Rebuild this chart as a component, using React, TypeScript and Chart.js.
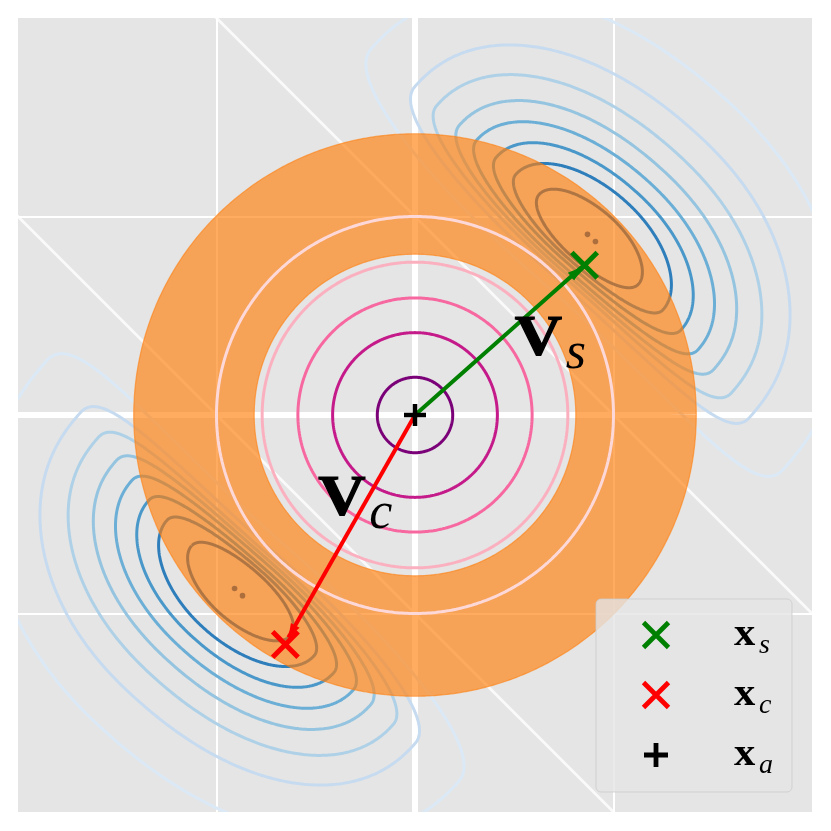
import React, { useEffect, useRef } from 'react';
import { Chart, registerables } from 'chart.js';

Chart.register(...registerables);

// ---------- data ----------
const AXIS_MIN = -2;
const AXIS_MAX = 2;
const GRID_STEP = 1;
const DIAGONAL_OFFSETS = [1, -1]; // white lines y = -x + c

const RING_RADII = [0.19, 0.415, 0.59, 0.77, 1.0];
const RING_COLORS = ['#7a0177', '#c51b8a', '#f768a1', '#fbb0c0', '#fdd8d8'];

const ANNULUS_INNER = 0.81;
const ANNULUS_OUTER = 1.417;

// two point-symmetric blobs of blue contours (outermost level first)
const BLOB_CENTERS = [{ x: 0.879, y: 0.889 }, { x: -0.879, y: -0.889 }];
const BLOB_AXIS_DEG = -41;
const CONTOUR_A_MINUS = [1.457, 1.166, 1.02, 0.869, 0.754, 0.623, 0.492, 0.337];
const CONTOUR_A_PLUS = [1.5, 1.2, 1.05, 0.905, 0.78, 0.65, 0.515, 0.337];
const CONTOUR_B_IN = [0.322, 0.261, 0.231, 0.211, 0.191, 0.166, 0.146, 0.126];
const CONTOUR_B_OUT = [0.98, 0.754, 0.613, 0.503, 0.412, 0.332, 0.261, 0.151];
const CONTOUR_POWER_MINUS = [2.15, 2.15, 2.1, 2.1, 2.05, 2.05, 2.0, 2.0];
const CONTOUR_POWER_PLUS = [2.45, 2.4, 2.35, 2.3, 2.2, 2.15, 2.05, 2.0];
const CONTOUR_BEND_PLUS = 0.1; // inward bend of the far (+u) end
const CONTOUR_COLORS = ['#dbe9f6', '#c6dbef', '#afd1e7', '#94c4df', '#6baed6', '#4a98c9', '#2e7ebc', '#1764ab'];
const MODE_DOTS = [
  { x: 0.869, y: 0.91 }, { x: 0.909, y: 0.874 },
  { x: -0.909, y: -0.874 }, { x: -0.869, y: -0.91 },
];

const X_S = { x: 0.854, y: 0.754 };
const X_C = { x: -0.653, y: -1.156 };
const X_A = { x: 0, y: 0 };
const V_S_END = { x: 0.839, y: 0.744 };
const V_C_END = { x: -0.638, y: -1.121 };

const LABELS = [
  { main: 'V', sub: 's', x: 0.503, y: 0.302 },
  { main: 'V', sub: 'c', x: -0.487, y: -0.503 },
];
const LEGEND_SUBS = ['s', 'c', 'a'];
const LEGEND_COLORS = ['#008000', '#ff0000', '#000000'];
const LEGEND_STYLES = ['crossRot', 'crossRot', 'cross'];

// ---------- geometry helpers ----------
function circlePoints(r: number, n = 240, extraDeg = 0) {
  const pts: { x: number; y: number }[] = [];
  const total = 2 * Math.PI + (extraDeg * Math.PI) / 180;
  for (let i = 0; i <= n; i++) {
    const t = (total * i) / n;
    pts.push({ x: r * Math.cos(t), y: r * Math.sin(t) });
  }
  return pts;
}

function contourPoints(k: number, blob: number, n = 280) {
  const c0 = BLOB_CENTERS[blob];
  const sg = blob === 0 ? 1 : -1;
  const ang = (BLOB_AXIS_DEG * Math.PI) / 180;
  const ux = Math.cos(ang), uy = Math.sin(ang);
  const vx = -uy, vy = ux;
  const pts: { x: number; y: number }[] = [];
  for (let i = 0; i <= n; i++) {
    const t = (2 * Math.PI * i) / n;
    const c = Math.cos(t), s = Math.sin(t);
    const plus = c >= 0;
    const a = plus ? CONTOUR_A_PLUS[k] : CONTOUR_A_MINUS[k];
    const b = s >= 0 ? CONTOUR_B_OUT[k] : CONTOUR_B_IN[k];
    const e = 2 / (plus ? CONTOUR_POWER_PLUS[k] : CONTOUR_POWER_MINUS[k]);
    const lu = a * Math.sign(c) * Math.pow(Math.abs(c), e);
    let lv = b * Math.sign(s) * Math.pow(Math.abs(s), e);
    if (lu > 0) lv -= CONTOUR_BEND_PLUS * lu * lu;
    pts.push({ x: c0.x + sg * (lu * ux + lv * vx), y: c0.y + sg * (lu * uy + lv * vy) });
  }
  return pts;
}

const lineBase = {
  showLine: true,
  pointRadius: 0,
  pointHoverRadius: 0,
  fill: false,
  tension: 0.0001,
  capBezierPoints: false,
  borderJoinStyle: 'round',
};

function pxPerUnit(chart: any) {
  const s = chart.scales.x;
  return Math.abs(s.getPixelForValue(1) - s.getPixelForValue(0));
}

const overlayPlugin = {
  id: 'overlay',
  beforeDraw(chart: any) {
    const { ctx, chartArea: a } = chart;
    ctx.save();
    ctx.fillStyle = '#e5e5e5';
    ctx.fillRect(a.left, a.top, a.right - a.left, a.bottom - a.top);
    ctx.restore();
  },
  afterDatasetDraw(chart: any, args: any) {
    const ds = chart.data.datasets[args.index];
    if (!ds.isArrow) return;
    const pts = args.meta.data;
    const p0 = pts[0], p1 = pts[pts.length - 1];
    const dx = p1.x - p0.x, dy = p1.y - p0.y;
    const len = Math.hypot(dx, dy);
    const ux = dx / len, uy = dy / len;
    const L = 14, W = 5;
    const { ctx } = chart;
    ctx.save();
    ctx.fillStyle = ds.borderColor;
    ctx.beginPath();
    ctx.moveTo(p1.x, p1.y);
    ctx.lineTo(p1.x - ux * L - uy * W, p1.y - uy * L + ux * W);
    ctx.lineTo(p1.x - ux * L + uy * W, p1.y - uy * L - ux * W);
    ctx.closePath();
    ctx.fill();
    ctx.restore();
  },
  afterDraw(chart: any) {
    const { ctx, chartArea: a, scales } = chart;
    ctx.save();
    ctx.fillStyle = '#000';
    ctx.textBaseline = 'alphabetic';
    // vector labels
    for (const lb of LABELS) {
      const px = scales.x.getPixelForValue(lb.x);
      const py = scales.y.getPixelForValue(lb.y);
      ctx.save();
      ctx.translate(px, py);
      ctx.scale(1.17, 1);
      ctx.font = 'bold 56px "Liberation Serif"';
      ctx.lineWidth = 1.2;
      ctx.strokeStyle = '#000';
      ctx.fillText(lb.main, 0, 0);
      ctx.strokeText(lb.main, 0, 0);
      ctx.restore();
      ctx.font = 'italic 52px "Liberation Serif"';
      ctx.fillText(lb.sub, px + 51, py + 13);
    }
    // legend
    const bw = 196, bh = 193;
    const x0 = a.right - 20 - bw;
    const y0 = a.bottom - 20 - bh;
    ctx.beginPath();
    ctx.roundRect(x0, y0, bw, bh, 5);
    ctx.fillStyle = 'rgba(229,229,229,0.8)';
    ctx.fill();
    ctx.lineWidth = 1;
    ctx.strokeStyle = 'rgba(204,204,204,0.8)';
    ctx.stroke();
    for (let i = 0; i < LEGEND_SUBS.length; i++) {
      const cx = x0 + 60;
      const cy = y0 + 36 + i * 60;
      ctx.strokeStyle = LEGEND_COLORS[i];
      ctx.lineWidth = 4.8;
      ctx.beginPath();
      if (LEGEND_STYLES[i] === 'crossRot') {
        const h = 12.5;
        ctx.moveTo(cx - h, cy - h); ctx.lineTo(cx + h, cy + h);
        ctx.moveTo(cx - h, cy + h); ctx.lineTo(cx + h, cy - h);
      } else {
        const h = 12;
        ctx.moveTo(cx - h, cy); ctx.lineTo(cx + h, cy);
        ctx.moveTo(cx, cy - h); ctx.lineTo(cx, cy + h);
      }
      ctx.stroke();
      ctx.fillStyle = '#000';
      ctx.save();
      ctx.translate(x0 + 138, cy + 10);
      ctx.scale(1.15, 1);
      ctx.font = 'bold 37px "Liberation Serif"';
      ctx.fillText('x', 0, 0);
      ctx.restore();
      ctx.font = 'italic 28px "Liberation Serif"';
      ctx.fillText(LEGEND_SUBS[i], x0 + 163, cy + 18);
    }
    ctx.restore();
  },
};

export default function App() {
  const ref = useRef<HTMLCanvasElement | null>(null);
  useEffect(() => {
    if (!ref.current) return;
    const datasets: any[] = [];

    // diagonal white lines
    DIAGONAL_OFFSETS.forEach((c) => {
      datasets.push({
        ...lineBase,
        tension: 0,
        data: [{ x: AXIS_MIN - 1, y: -(AXIS_MIN - 1) + c }, { x: AXIS_MAX + 1, y: -(AXIS_MAX + 1) + c }],
        borderColor: 'rgba(255,255,255,0.8)',
        borderWidth: 2.8,
        clip: 0,
        order: 9,
      });
    });

    // blue contours
    for (let blob = 0; blob < BLOB_CENTERS.length; blob++) {
      for (let k = 0; k < CONTOUR_COLORS.length; k++) {
        datasets.push({
          ...lineBase,
          data: contourPoints(k, blob),
          borderColor: CONTOUR_COLORS[k],
          borderWidth: 3,
          clip: 0,
          order: 8,
        });
      }
    }

    // mode dots
    datasets.push({
      data: MODE_DOTS,
      showLine: false,
      pointRadius: 2.8,
      pointBorderWidth: 0,
      pointBackgroundColor: '#0b4c95',
      order: 7,
    });

    // orange annulus (thick ring)
    datasets.push({
      ...lineBase,
      data: circlePoints((ANNULUS_INNER + ANNULUS_OUTER) / 2, 360, 8),
      borderColor: 'rgba(255,127,14,0.66)',
      borderWidth: (ctx: any) => (ANNULUS_OUTER - ANNULUS_INNER) * pxPerUnit(ctx.chart),
      borderCapStyle: 'butt',
      order: 6,
    });
    [ANNULUS_INNER, ANNULUS_OUTER].forEach((r) => {
      datasets.push({
        ...lineBase,
        data: circlePoints(r, 360),
        borderColor: 'rgba(255,127,14,0.6)',
        borderWidth: 1.2,
        order: 5,
      });
    });

    // pink rings
    RING_RADII.forEach((r, i) => {
      datasets.push({
        ...lineBase,
        data: circlePoints(r, 240),
        borderColor: RING_COLORS[i],
        borderWidth: 3,
        order: 4,
      });
    });

    // arrows
    datasets.push({
      ...lineBase,
      tension: 0,
      data: [X_A, V_S_END],
      borderColor: '#008000',
      borderWidth: 4,
      isArrow: true,
      order: 3,
    });
    datasets.push({
      ...lineBase,
      tension: 0,
      data: [X_A, V_C_END],
      borderColor: '#ff0000',
      borderWidth: 4,
      isArrow: true,
      order: 3,
    });

    // markers
    datasets.push({
      data: [X_S],
      showLine: false,
      pointStyle: 'crossRot',
      pointRadius: 18,
      pointBorderWidth: 5,
      pointBorderColor: '#008000',
      order: 1,
    });
    datasets.push({
      data: [X_C],
      showLine: false,
      pointStyle: 'crossRot',
      pointRadius: 18,
      pointBorderWidth: 5,
      pointBorderColor: '#ff0000',
      order: 1,
    });
    datasets.push({
      data: [X_A],
      showLine: false,
      pointStyle: 'cross',
      pointRadius: 11,
      pointBorderWidth: 4.5,
      pointBorderColor: '#000000',
      order: 1,
    });

    const gridLW = (ctx: any) => {
      const v = ctx.tick ? ctx.tick.value : 99;
      if (Math.abs(v) >= AXIS_MAX) return 0;
      return v === 0 ? 6 : 2;
    };
    const gridColor = (ctx: any) => {
      const v = ctx.tick ? ctx.tick.value : 99;
      return Math.abs(v) >= AXIS_MAX ? 'rgba(0,0,0,0)' : '#ffffff';
    };
    const axis = {
      type: 'linear',
      min: AXIS_MIN,
      max: AXIS_MAX,
      ticks: { display: false, stepSize: GRID_STEP },
      grid: { color: gridColor, lineWidth: gridLW, drawTicks: false },
      border: { display: false },
    };

    const chart = new Chart(ref.current, {
      type: 'scatter',
      data: { datasets },
      options: {
        animation: false,
        responsive: false,
        devicePixelRatio: 1,
        events: [],
        layout: { autoPadding: false, padding: { left: 18, top: 18, right: 19, bottom: 19 } },
        plugins: { legend: { display: false }, tooltip: { enabled: false } },
        scales: { x: axis, y: axis },
      } as any,
      plugins: [overlayPlugin as any],
    });
    return () => chart.destroy();
  }, []);

  return (
    <div style={{ position: 'absolute', left: 0, top: 0, width: 831, height: 831, background: '#fff' }}>
      <canvas ref={ref} width={831} height={831} />
    </div>
  );
}
